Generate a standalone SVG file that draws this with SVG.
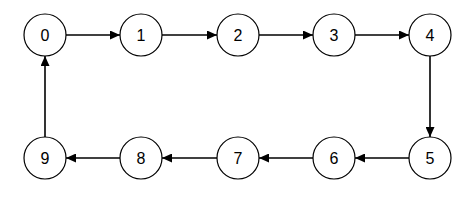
<svg xmlns="http://www.w3.org/2000/svg" width="460" height="203" viewBox="0 0 460 203">
<style>
.n circle{fill:#fff;stroke:#000;stroke-width:1.2}
.n text{font-family:"Liberation Sans",Arial,sans-serif;font-size:16px;fill:#000;text-anchor:middle}
.e line{stroke:#000;stroke-width:1.6;marker-end:url(#ah)}
</style>
<defs>
<marker id="ah" markerUnits="userSpaceOnUse" markerWidth="10" markerHeight="9" refX="10" refY="4.5" orient="auto">
<path d="M0,0 L10,4.5 L0,9 Z" fill="#000"/>
</marker>
</defs>
<rect width="460" height="203" fill="#fff"/>
<g id="connectors" class="e">
<line x1="66" y1="35" x2="120" y2="35"/>
<line x1="162" y1="35" x2="217" y2="35"/>
<line x1="259" y1="35" x2="313" y2="35"/>
<line x1="355" y1="35" x2="409" y2="35"/>
<line x1="430" y1="56" x2="430" y2="137"/>
<line x1="409" y1="158" x2="355" y2="158"/>
<line x1="313" y1="158" x2="259" y2="158"/>
<line x1="217" y1="158" x2="162" y2="158"/>
<line x1="120" y1="158" x2="66" y2="158"/>
<line x1="45" y1="137" x2="45" y2="56"/>
</g>
<g id="node0" class="n"><circle cx="45" cy="35" r="21"/><text x="45" y="41">0</text></g>
<g id="node1" class="n"><circle cx="141" cy="35" r="21"/><text x="141" y="41">1</text></g>
<g id="node2" class="n"><circle cx="238" cy="35" r="21"/><text x="238" y="41">2</text></g>
<g id="node3" class="n"><circle cx="334" cy="35" r="21"/><text x="334" y="41">3</text></g>
<g id="node4" class="n"><circle cx="430" cy="35" r="21"/><text x="430" y="41">4</text></g>
<g id="node5" class="n"><circle cx="430" cy="158" r="21"/><text x="430" y="164">5</text></g>
<g id="node6" class="n"><circle cx="334" cy="158" r="21"/><text x="334" y="164">6</text></g>
<g id="node7" class="n"><circle cx="238" cy="158" r="21"/><text x="238" y="164">7</text></g>
<g id="node8" class="n"><circle cx="141" cy="158" r="21"/><text x="141" y="164">8</text></g>
<g id="node9" class="n"><circle cx="45" cy="158" r="21"/><text x="45" y="164">9</text></g>
</svg>
